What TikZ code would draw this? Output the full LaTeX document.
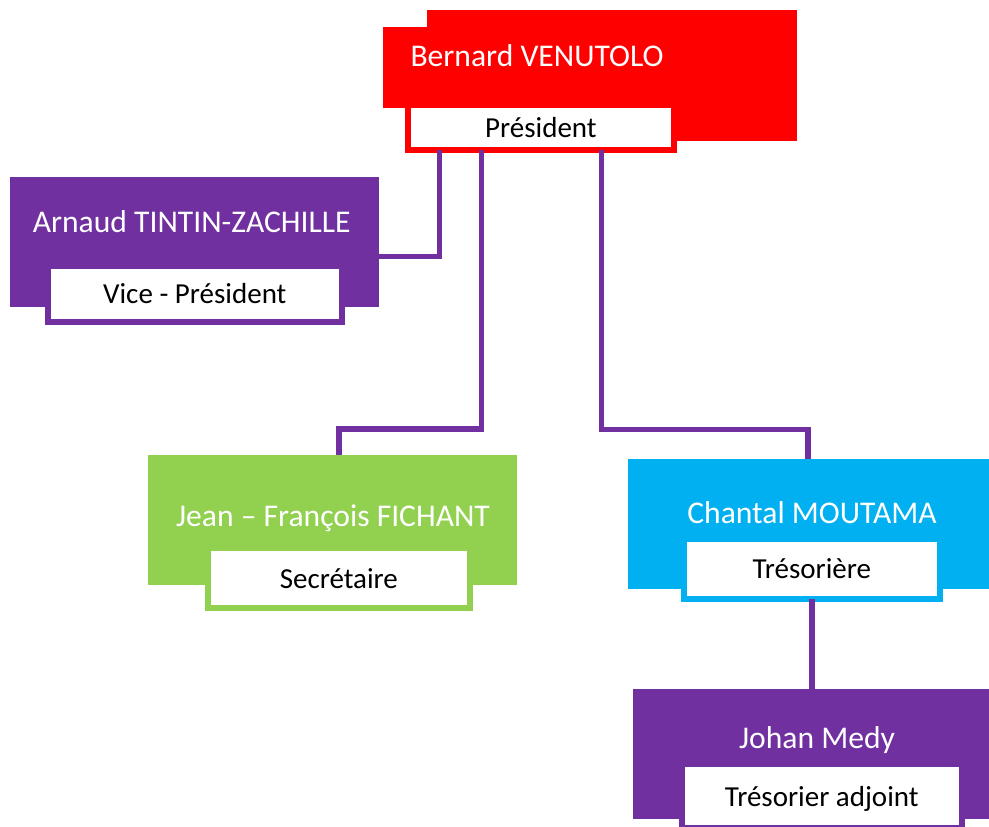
\documentclass[tikz,border=0pt]{standalone}
\usepackage{fontspec}
\setmainfont{Carlito}

\definecolor{presred}{HTML}{FF0000}
\definecolor{bureaupurple}{HTML}{7030A0}
\definecolor{secgreen}{HTML}{92D050}
\definecolor{trecyan}{HTML}{00B0F0}

\tikzset{
  box/.style={rectangle, inner sep=0pt, outer sep=0pt},
  nametext/.style={anchor=base, inner sep=0pt, text=white, font=\fontsize{31.6}{38}\selectfont},
  rolebox/.style={rectangle, draw=#1, fill=white, line width=6pt, inner sep=0pt, outer sep=0pt,
    text height=24pt, text depth=4pt, font=\fontsize{29}{34}\selectfont},
  link/.style={draw=bureaupurple, line width=5.5pt}
}

\begin{document}
\begin{tikzpicture}[x=1pt, y=-1pt]
    \useasboundingbox (0,0) rectangle (989,827);
    \clip (0,0) rectangle (989,827);

    % President
    \node[box, fill=presred, minimum width=370, minimum height=131] (presback) at (612,75.5) {};
    \node[box, fill=presred, minimum width=369, minimum height=81] (pres) at (567.5,67.5) {};
    \node[nametext] (presname) at (537,66.7) {Bernard VENUTOLO};
    \node[rolebox=presred, minimum width=266, minimum height=45] (presT) at (540.9,127.2) {Président};

    % Vice-president
    \node[box, fill=bureaupurple, minimum width=369, minimum height=130] (vp) at (194.5,242) {};
    \node[nametext] (vpname) at (191.7,232.7) {Arnaud TINTIN-ZACHILLE};
    \node[rolebox=bureaupurple, minimum width=293.8, minimum height=55.7] (vpT) at (194.8,293.8) {Vice - Président};

    % Secretary
    \node[box, fill=secgreen, minimum width=368.4, minimum height=130] (sec) at (332.5,520) {};
    \node[nametext] (secname) at (333,526) {Jean – François FICHANT};
    \node[rolebox=secgreen, minimum width=262.3, minimum height=60.3] (secT) at (338.8,578.2) {Secrétaire};

    % Treasurer
    \node[box, fill=trecyan, minimum width=369, minimum height=130] (tre) at (812.8,524) {};
    \node[nametext] (trename) at (812,523.3) {Chantal MOUTAMA};
    \node[rolebox=trecyan, minimum width=255.8, minimum height=60.2] (treT) at (811.8,568.9) {Trésorière};

    % Assistant treasurer
    \node[box, fill=bureaupurple, minimum width=369, minimum height=130] (jm) at (817.2,754.3) {};
    \node[nametext] (jmname) at (817,748.3) {Johan Medy};
    \node[rolebox=bureaupurple, minimum width=280.3, minimum height=63.7] (jmT) at (821.8,796.2) {Trésorier adjoint};

    % Links
    \coordinate (vpknee) at (439.7,256.5);
    \coordinate (secknee) at (481.7,429);
    \coordinate (treknee) at (601.7,429.5);
    \draw[link] (presT.south -| vpknee) -- (vpknee) -- (vp.east |- vpknee);
    \draw[link] (presT.south -| secknee) -- (secknee) -| (secT |- sec.north);
    \draw[link] (presT.south -| treknee) -- (treknee) -| ([xshift=-5pt]tre.north);
    \draw[link] (treT.south) -- (treT.south |- jm.north);
\end{tikzpicture}
\end{document}
